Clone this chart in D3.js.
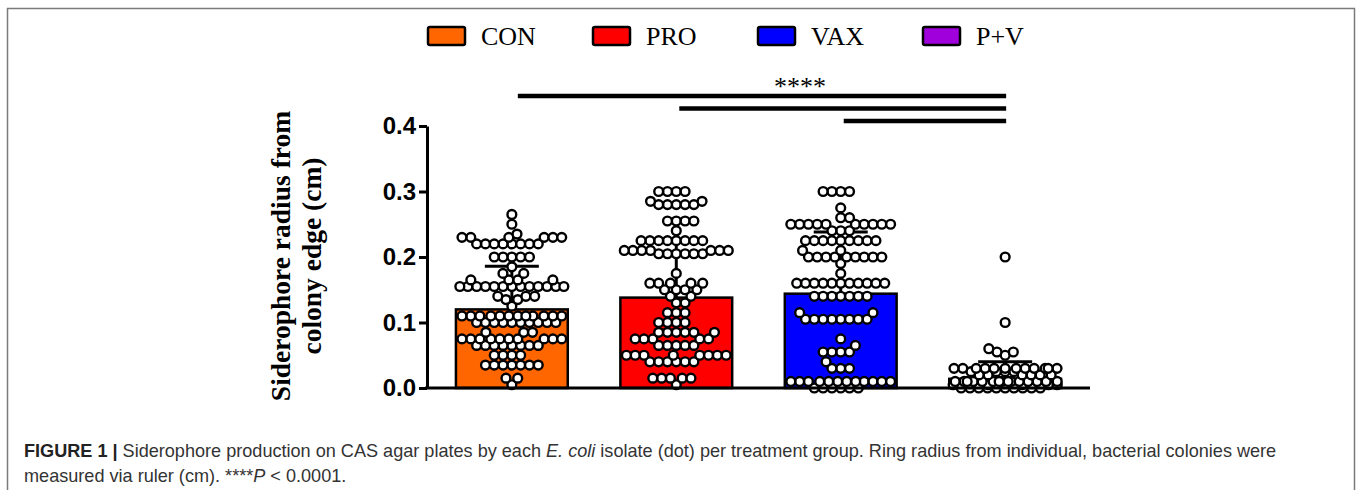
<!DOCTYPE html>
<html>
<head>
<meta charset="utf-8">
<script src="https://cdn.jsdelivr.net/npm/d3@7/dist/d3.min.js"></script>
<style>
  body { margin: 0; background: #fff; }
  svg { display: block; }
</style>
</head>
<body>
<script>
// groups and bar stats
var groups = ["CON", "PRO", "VAX", "P+V"];
var colors = ["#ff6600", "#ff0000", "#0000ff", "#a000dc"];
var means = [0.12, 0.138, 0.144, 0.014];
var sds = [0.066, 0.088, 0.094, 0.026];
var yTicks = [0, 0.1, 0.2, 0.3, 0.4];
var sigPairs = [["CON", "P+V"], ["PRO", "P+V"], ["VAX", "P+V"]];

// individual isolates (cm), one entry per dot
var conValues = [
  0.265, 0.25, 0.235,
  0.23, 0.23, 0.23, 0.23, 0.23, 0.23,
  0.22, 0.22, 0.22, 0.22, 0.22, 0.22, 0.22, 0.22,
  0.2, 0.2, 0.2, 0.2, 0.2,
  0.185, 0.175, 0.175,
  0.165, 0.165, 0.165, 0.165,
  0.155, 0.155, 0.155, 0.155, 0.155, 0.155, 0.155, 0.155, 0.155, 0.155, 0.155, 0.155, 0.155,
  0.14, 0.14, 0.14, 0.135, 0.135, 0.125,
  0.11, 0.11, 0.11, 0.11, 0.11, 0.11, 0.11, 0.11, 0.11, 0.11, 0.11, 0.11,
  0.1, 0.1, 0.1, 0.1, 0.1, 0.1, 0.1, 0.1, 0.1, 0.1,
  0.085, 0.085, 0.085,
  0.075, 0.075, 0.075, 0.075, 0.075, 0.075, 0.075, 0.075, 0.075, 0.075,
  0.065, 0.065, 0.065, 0.065, 0.065, 0.065, 0.065, 0.065,
  0.05, 0.05, 0.05, 0.05,
  0.035, 0.035, 0.035, 0.035, 0.035, 0.035, 0.035,
  0.015, 0.015, 0.005
];
var proValues = [
  0.3, 0.3, 0.3, 0.3,
  0.285, 0.285,
  0.28, 0.28, 0.28, 0.28, 0.28,
  0.255, 0.255, 0.255, 0.255,
  0.24,
  0.225, 0.225, 0.225, 0.225, 0.225, 0.225, 0.225, 0.225,
  0.21, 0.21, 0.21, 0.21, 0.21, 0.21, 0.21,
  0.205, 0.205, 0.205, 0.205, 0.205, 0.205,
  0.175,
  0.16, 0.16, 0.16, 0.16, 0.16,
  0.15, 0.15, 0.15, 0.15,
  0.14, 0.14, 0.13, 0.13,
  0.115, 0.115, 0.115,
  0.1, 0.1, 0.1, 0.1,
  0.085, 0.085, 0.085, 0.085, 0.085, 0.085,
  0.075, 0.075, 0.075, 0.075, 0.075,
  0.065, 0.065, 0.065, 0.065, 0.065,
  0.05, 0.05, 0.05, 0.05, 0.05, 0.05, 0.05, 0.05,
  0.04, 0.04, 0.04, 0.04, 0.04, 0.04,
  0.015, 0.015, 0.015, 0.015, 0.015,
  0.005
];
var vaxValues = [
  0.3, 0.3, 0.3, 0.3,
  0.275, 0.26, 0.26,
  0.25, 0.25, 0.25, 0.25, 0.25, 0.25, 0.25, 0.25, 0.25, 0.25,
  0.24, 0.24, 0.24,
  0.225, 0.225, 0.225, 0.225, 0.225, 0.225, 0.225, 0.225, 0.225,
  0.21, 0.21,
  0.2, 0.2, 0.2, 0.2, 0.2, 0.2, 0.2, 0.2, 0.2,
  0.19, 0.175,
  0.16, 0.16, 0.16, 0.16, 0.16, 0.16, 0.16, 0.16, 0.16, 0.16, 0.16,
  0.14, 0.14, 0.14, 0.14, 0.14, 0.14, 0.14,
  0.115, 0.115,
  0.105, 0.105, 0.105, 0.105, 0.105, 0.105, 0.105, 0.105,
  0.075, 0.065,
  0.055, 0.055, 0.055, 0.055,
  0.04, 0.03, 0.03, 0.03,
  0.01, 0.01, 0.01, 0.01, 0.01, 0.01, 0.01, 0.01, 0.01, 0.01, 0.01, 0.01,
  0, 0, 0, 0, 0, 0
];
var pvValues = [
  0.2, 0.1, 0.06, 0.055, 0.055, 0.05,
  0.03, 0.03, 0.03, 0.03, 0.03, 0.03, 0.03, 0.03, 0.03, 0.03, 0.03, 0.03,
  0.025, 0.025, 0.025, 0.025,
  0.02, 0.02, 0.02, 0.02, 0.02, 0.02,
  0.01, 0.01, 0.01, 0.01, 0.01, 0.01, 0.01, 0.01, 0.01, 0.01, 0.01, 0.01, 0.01, 0.01, 0.01,
  0.005, 0.005, 0.005, 0.005, 0.005,
  0, 0, 0, 0, 0, 0, 0, 0, 0, 0
];
var groupValues = [conValues, proValues, vaxValues, pvValues];

var width = 1357, height = 490;

var svg = d3.select("body").append("svg")
  .attr("width", width)
  .attr("height", height);

// frame around the figure
svg.append("rect")
  .attr("x", 7.5).attr("y", 8.5)
  .attr("width", 1347).attr("height", 600)
  .attr("fill", "none")
  .attr("stroke", "#7a7a7a")
  .attr("stroke-width", 1.5);

var xScale = d3.scaleBand()
  .domain(groups)
  .range([427, 1090])
  .paddingInner(0.32)
  .paddingOuter(0.176);

var yScale = d3.scaleLinear()
  .domain([0, 0.4])
  .range([388, 126]);

// bars
svg.selectAll(".bar")
  .data(groups)
  .enter().append("rect")
  .attr("class", "bar")
  .attr("x", function (d) { return xScale(d); })
  .attr("y", function (d, i) { return yScale(means[i]); })
  .attr("width", xScale.bandwidth())
  .attr("height", function (d, i) { return yScale(0) - yScale(means[i]); })
  .attr("fill", function (d, i) { return colors[i]; })
  .attr("stroke", "#000")
  .attr("stroke-width", 2.5);

// error bars (mean + SD)
var capW = 54;
groups.forEach(function (g, i) {
  var cx = xScale(g) + xScale.bandwidth() / 2;
  svg.append("line")
    .attr("x1", cx).attr("x2", cx)
    .attr("y1", yScale(means[i])).attr("y2", yScale(means[i] + sds[i]))
    .attr("stroke", "#000").attr("stroke-width", 3);
  svg.append("line")
    .attr("x1", cx - capW / 2).attr("x2", cx + capW / 2)
    .attr("y1", yScale(means[i] + sds[i])).attr("y2", yScale(means[i] + sds[i]))
    .attr("stroke", "#000").attr("stroke-width", 3);
});

// simple beeswarm: keep y, push x away from the centre until there is room
function swarm(values, D, maxW) {
  var placed = [];
  values.slice().sort(d3.ascending).forEach(function (v, i) {
    var y = yScale(v);
    var near = placed.filter(function (p) { return Math.abs(p.y - y) < D; });
    var cands = [0];
    near.forEach(function (p) {
      var dx = Math.sqrt(D * D - (p.y - y) * (p.y - y));
      cands.push(p.x - dx, p.x + dx);
    });
    cands.sort(function (a, b) {
      return Math.abs(a) - Math.abs(b) || (i % 2 ? a - b : b - a);
    });
    var x = null;
    for (var k = 0; k < cands.length; k++) {
      var c = cands[k];
      if (Math.abs(c) > maxW) break;
      var ok = near.every(function (p) {
        return (p.x - c) * (p.x - c) + (p.y - y) * (p.y - y) >= D * D - 0.01;
      });
      if (ok) { x = c; break; }
    }
    if (x === null) {
      var best = Infinity;
      for (var c2 = -maxW; c2 <= maxW; c2 += 1) {
        var s = Math.abs(c2) * 0.001;
        near.forEach(function (p) {
          var d = Math.sqrt((p.x - c2) * (p.x - c2) + (p.y - y) * (p.y - y));
          if (d < D) s += D - d;
        });
        if (s < best) { best = s; x = c2; }
      }
    }
    placed.push({ v: v, x: x, y: y });
  });
  return placed;
}

groups.forEach(function (g, i) {
  var cx = xScale(g) + xScale.bandwidth() / 2;
  var pts = swarm(groupValues[i], 8.8, 52);
  svg.selectAll(".dot-" + i)
    .data(pts)
    .enter().append("circle")
    .attr("class", "dot-" + i)
    .attr("cx", function (d) { return cx + d.x; })
    .attr("cy", function (d) { return d.y; })
    .attr("r", 4.4)
    .attr("fill", "#fff")
    .attr("stroke", "#000")
    .attr("stroke-width", 2.4);
});

// axes
var yAxis = svg.append("g")
  .attr("transform", "translate(427,0)")
  .call(d3.axisLeft(yScale).tickValues(yTicks).tickFormat(d3.format(".1f")).tickSize(8).tickSizeOuter(0));
yAxis.select(".domain").attr("stroke-width", 3);
yAxis.selectAll(".tick line").attr("stroke-width", 3);
yAxis.selectAll(".tick text")
  .attr("x", -11)
  .attr("font-family", "'Liberation Sans', Arial, sans-serif")
  .attr("font-weight", "bold")
  .attr("font-size", 24)
  .attr("fill", "#000");

svg.append("line")
  .attr("x1", 425).attr("x2", 1090)
  .attr("y1", yScale(0)).attr("y2", yScale(0))
  .attr("stroke", "#000").attr("stroke-width", 3);

// y axis title
var yTitle = svg.append("text")
  .attr("transform", "translate(296,256) rotate(-90)")
  .attr("text-anchor", "middle")
  .attr("font-family", "'Liberation Serif', 'Times New Roman', serif")
  .attr("font-weight", "bold")
  .attr("font-size", 27.5)
  .attr("fill", "#000");
yTitle.append("tspan").attr("x", 0).attr("y", -6).text("Siderophore radius from");
yTitle.append("tspan").attr("x", 0).attr("y", 25).text("colony edge (cm)");

// significance lines
sigPairs.forEach(function (p, i) {
  svg.append("line")
    .attr("x1", xScale(p[0]) + xScale.bandwidth() / 2 + (i === 0 ? 6 : 3))
    .attr("x2", xScale(p[1]) + xScale.bandwidth() / 2 + 1)
    .attr("y1", 96 + i * 12.5).attr("y2", 96 + i * 12.5)
    .attr("stroke", "#000").attr("stroke-width", 4.5);
});
svg.append("text")
  .attr("x", 800).attr("y", 95)
  .attr("text-anchor", "middle")
  .attr("font-family", "'Liberation Serif', 'Times New Roman', serif")
  .attr("font-size", 26)
  .text("****");

// legend
var legend = svg.selectAll(".legend")
  .data(groups)
  .enter().append("g")
  .attr("class", "legend")
  .attr("transform", function (d, i) { return "translate(" + (428 + i * 165) + ",27)"; });
legend.append("rect")
  .attr("width", 37).attr("height", 18)
  .attr("rx", 2)
  .attr("fill", function (d, i) { return colors[i]; })
  .attr("stroke", "#000").attr("stroke-width", 2.5);
legend.append("text")
  .attr("x", 53).attr("y", 18)
  .attr("font-family", "'Liberation Serif', 'Times New Roman', serif")
  .attr("font-size", 26)
  .text(function (d) { return d; });

// caption
var cap1 = svg.append("text")
  .attr("x", 24).attr("y", 457)
  .attr("font-family", "'Liberation Sans', Arial, sans-serif")
  .attr("font-size", 16)
  .attr("fill", "#333");
cap1.append("tspan").attr("font-weight", "bold").attr("fill", "#222").text("FIGURE 1 | ");
cap1.append("tspan").text("Siderophore production on CAS agar plates by each ");
cap1.append("tspan").attr("font-style", "italic").text("E. coli");
cap1.append("tspan").text(" isolate (dot) per treatment group. Ring radius from individual, bacterial colonies were");

var cap2 = svg.append("text")
  .attr("x", 24).attr("y", 482)
  .attr("font-family", "'Liberation Sans', Arial, sans-serif")
  .attr("font-size", 16)
  .attr("fill", "#333");
cap2.append("tspan").text("measured via ruler (cm). ****");
cap2.append("tspan").attr("font-style", "italic").text("P");
cap2.append("tspan").text(" < 0.0001.");

// fit the first caption line to the width it has in the figure
var w = cap1.node().getComputedTextLength();
var fs = 16 * 1253 / w;
cap1.attr("font-size", fs);
cap2.attr("font-size", fs);
</script>
</body>
</html>
